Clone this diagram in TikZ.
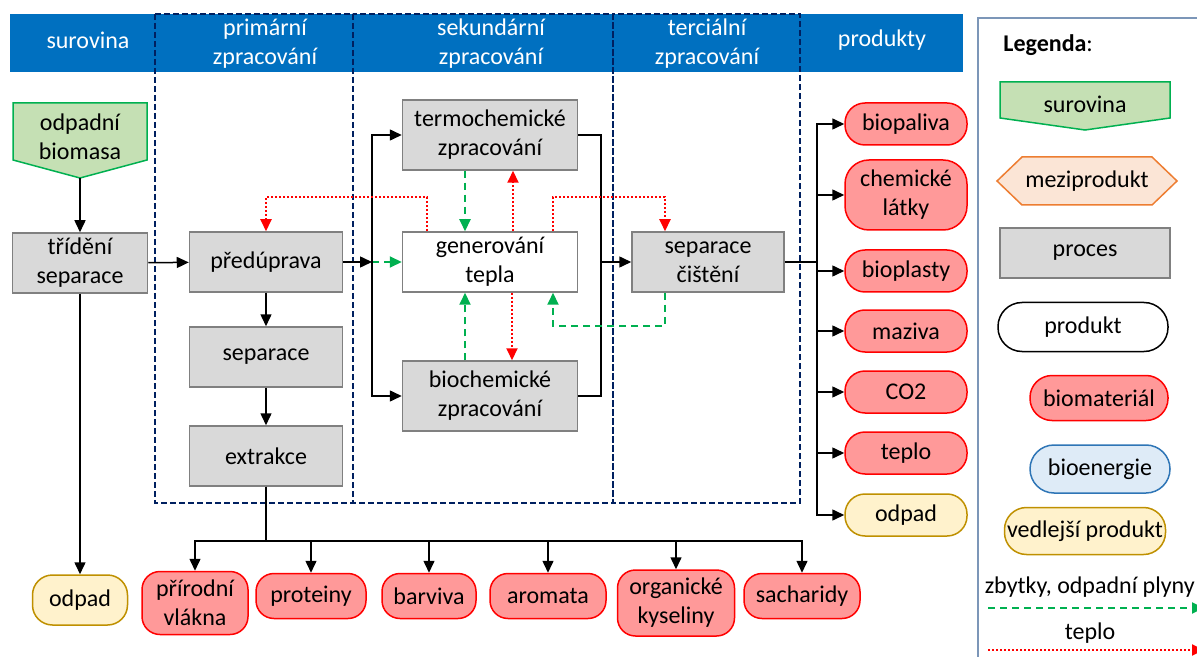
\documentclass[tikz,border=0pt]{standalone}
\usepackage{fontspec}
\setmainfont{Carlito}
\usetikzlibrary{positioning, arrows.meta, calc}
\definecolor{headc}{RGB}{0,112,192}
\definecolor{lanec}{RGB}{0,32,96}
\definecolor{procf}{RGB}{217,217,217}
\definecolor{procd}{RGB}{128,128,128}
\definecolor{surf}{RGB}{197,224,180}
\definecolor{surd}{RGB}{0,176,80}
\definecolor{bmf}{RGB}{255,153,153}
\definecolor{bmd}{RGB}{255,0,0}
\definecolor{vpf}{RGB}{255,242,204}
\definecolor{vpd}{RGB}{191,144,0}
\definecolor{bef}{RGB}{222,235,247}
\definecolor{bed}{RGB}{46,117,182}
\definecolor{mpf}{RGB}{251,229,214}
\definecolor{mpd}{RGB}{237,125,49}
\definecolor{legc}{RGB}{124,150,184}
\definecolor{greenl}{RGB}{0,176,80}

\begin{document}
\begin{tikzpicture}[
  x=0.5pt, y=-0.5pt,
  font=\fontsize{12}{14.5}\selectfont,
  line width=0.75pt,
  >={Triangle[length=6pt,width=5.5pt]},
  proc/.style={draw=procd, fill=procf, align=center, inner sep=1pt, minimum width=76.5pt, minimum height=30pt},
  prod/.style={draw=bmd, fill=bmf, rounded corners=10pt, align=center, inner sep=1pt, minimum width=61pt, minimum height=21pt},
  bmat/.style={draw=bmd, fill=bmf, rounded corners=9pt, align=center, inner sep=1pt, minimum height=22.5pt},
  vedl/.style={draw=vpd, fill=vpf, rounded corners=10pt, align=center, inner sep=1pt},
  hdr/.style={text=white, align=center},
  lane/.style={draw=lanec, dash pattern=on 3pt off 1.5pt, line width=0.8pt},
  gdash/.style={draw=greenl, dash pattern=on 3.5pt off 2.5pt, line width=1pt},
  rdot/.style={draw=red, dash pattern=on 1pt off 1pt, line width=1pt}
]
\useasboundingbox (0,0) rectangle (1197,657);
\clip (0,0) rectangle (1197,657);

% header and lanes
\fill[headc] (10,14) rectangle (963,72);
\node[hdr] (h1) at (88,40) {surovina};
\node[hdr] (h2) at (265,44) {primární\\zpracování};
\node[hdr] (h3) at (491,44) {sekundární\\zpracování};
\node[hdr] (h4) at (707,44) {terciální\\zpracování};
\node[hdr] (h5) at (882,40) {produkty};
\draw[lane] (155,14) rectangle (353,503);
\draw[lane] (353,14) rectangle (613,503);
\draw[lane] (613,14) rectangle (800,503);

% surovina
\filldraw[draw=surd, fill=surf] (13,103) -- (147,103) -- (147,160) -- (80,178) -- (13,160) -- cycle;
\node[align=center] (bio) at (80,137) {odpadní\\biomasa};
\coordinate (biotip) at (80,178);

\node[proc, minimum width=67.5pt] (trid) at (80,263) {třídění\\separace};
\node[vedl, minimum width=47.5pt, minimum height=25pt] (odp1) at (80,600) {odpad};

% primarni
\node[proc] (pred) at (266,262) {předúprava};
\node[proc] (sep) at (266,357) {separace};
\node[proc] (extr) at (266,456) {extrakce};

% sekundarni
\node[proc, minimum width=87.5pt, minimum height=35pt] (termo) at (490,135) {termochemické\\zpracování};
\node[proc, fill=white, minimum width=87.5pt] (gen) at (490,262) {generování\\tepla};
\node[proc, minimum width=87.5pt, minimum height=35pt] (bioch) at (490,396) {biochemické\\zpracování};

% terciarni
\node[proc, minimum width=76pt] (sepc) at (708,262) {separace\\čištění};

% produkty
\node[prod] (bpal) at (906,124) {biopaliva};
\node[prod, minimum height=35pt, rounded corners=12pt] (chem) at (906,195) {chemické\\látky};
\node[prod] (bpla) at (906,271) {bioplasty};
\node[prod] (maz) at (906,331) {maziva};
\node[prod] (co) at (906,392) {CO2};
\node[prod] (tep) at (906,453) {teplo};
\node[prod, draw=vpd, fill=vpf] (odp2) at (906,515) {odpad};

% spodni rada
\node[bmat, minimum width=53pt, minimum height=31.5pt] (prir) at (195,603) {přírodní\\vlákna};
\node[bmat, minimum width=55pt] (prot) at (311,596) {proteiny};
\node[bmat, minimum width=47pt] (barv) at (429,596) {barviva};
\node[bmat, minimum width=58pt] (arom) at (548,596) {aromata};
\node[bmat, minimum width=58.5pt, minimum height=33pt] (orgk) at (676,603) {organické\\kyseliny};
\node[bmat, minimum width=58pt] (sach) at (802,596) {sacharidy};

\coordinate (jl) at (372,262);
\coordinate (jr) at (601,262);
\coordinate (jp) at (817,262);
\coordinate (bus) at (266,541);

\draw[->] (biotip) -- (trid);
\draw[->] (trid) -- (pred);
\draw[->] (trid) -- (odp1);
\draw[->] (pred) -- (sep);
\draw[->] (sep) -- (extr);
\foreach \n in {prir,prot,barv,arom,orgk,sach}
  \draw[->] (extr.south) -- (bus) -| (\n.north);

\draw[->] (pred) -- (jl);
\draw[gdash,->] (jl) -- (gen);
\draw[->] (jl) |- (termo);
\draw[->] (jl) |- (bioch);
\draw (termo) -| (jr);
\draw (bioch) -| (jr);
\draw[->] (jr) -- (sepc);

\draw[gdash,->] ($(termo.south)+(-25,0)$) -- ($(gen.north)+(-25,0)$);
\draw[rdot,->] ($(gen.north)+(23,0)$) -- ($(termo.south)+(23,0)$);
\draw[rdot,->] ($(gen.south)+(22,0)$) -- ($(bioch.north)+(22,0)$);
\draw[gdash,->] ($(bioch.north)+(-25,0)$) -- ($(gen.south)+(-25,0)$);
\draw[rdot,->] ($(gen.north)+(-63,0)$) -- ++(0,-34) -| (pred.north);
\draw[rdot,->] ($(gen.north)+(63,0)$) -- ++(0,-34) -| ($(sepc.north)+(-43,0)$);
\draw[gdash,->] ($(sepc.south)+(-43,0)$) -- ++(0,33) -| ($(gen.south)+(63,0)$);

\draw (sepc) -- (jp);
\foreach \n in {bpal,chem,bpla,maz,co,tep,odp2}
  \draw[->] (jp) |- (\n);

% legenda
\draw[legc, line width=1pt] (1205,18) -- (978,18) -- (978,665);
\node[font=\fontsize{12}{14.5}\selectfont\bfseries, anchor=west] (leg) at (996,45) {Legenda\textmd{:}};
\filldraw[draw=surd, fill=surf] (1000,82) -- (1170,82) -- (1170,118) -- (1085,130) -- (1000,118) -- cycle;
\node (lsur) at (1085,104) {surovina};
\filldraw[draw=mpd, fill=mpf] (997,181) -- (1022,157) -- (1152,157) -- (1177,181) -- (1152,205) -- (1022,205) -- cycle;
\node (lmez) at (1087,181) {meziprodukt};
\node[proc, minimum width=85pt, minimum height=25pt] (lproc) at (1085,253) {proces};
\node[prod, draw=black, fill=white, minimum width=85pt, minimum height=24.5pt, rounded corners=12pt] (lprod) at (1083,327) {produkt};
\node[prod, minimum width=69pt, minimum height=22.5pt, rounded corners=11pt] (lbm) at (1099,398) {biomateriál};
\node[prod, draw=bed, fill=bef, minimum width=70pt, minimum height=24pt, rounded corners=12pt] (lbe) at (1100,469) {bioenergie};
\node[vedl, minimum width=80.5pt, minimum height=23.5pt, rounded corners=11pt] (lvp) at (1085,531) {vedlejší produkt};
\node[anchor=west, inner sep=0pt] (lzb) at (984,587) {zbytky, odpadní plyny};
\node (ltep) at (1090,633) {teplo};
\coordinate (lg1) at (988,608);
\coordinate (lg2) at (1204,608);
\coordinate (lr1) at (988,650);
\coordinate (lr2) at (1204,650);
\draw[gdash,->] (lg1) -- (lg2);
\draw[rdot,->] (lr1) -- (lr2);
\end{tikzpicture}
\end{document}
